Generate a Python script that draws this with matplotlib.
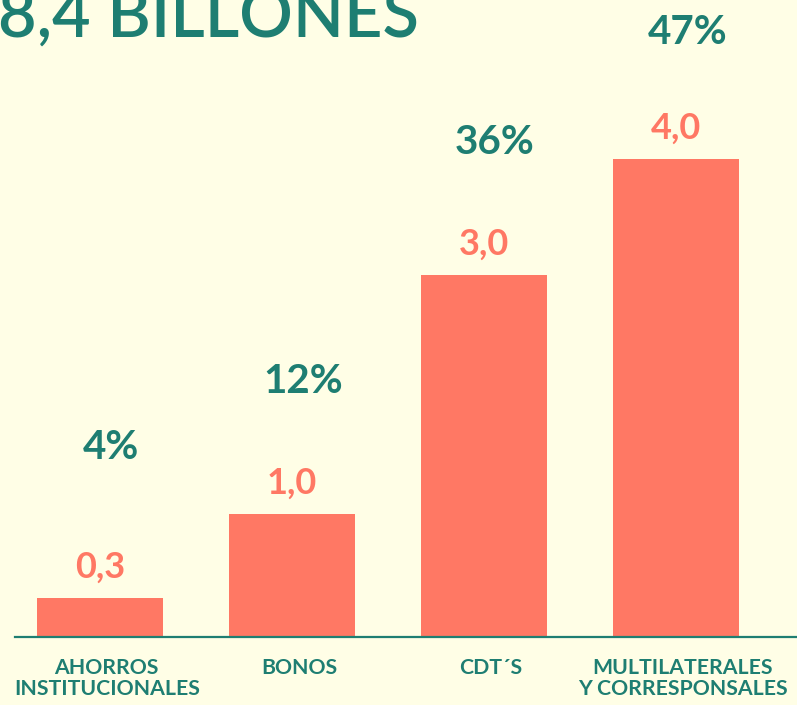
import matplotlib
matplotlib.use('Agg')
import matplotlib.pyplot as plt

# data (billones)
categories = ['AHORROS\nINSTITUCIONALES', 'BONOS', 'CDT´S', 'MULTILATERALES\nY CORRESPONSALES']
values = [0.33, 1.03, 3.03, 4.0]
value_labels = ['0,3', '1,0', '3,0', '4,0']
pct_labels = ['4%', '12%', '36%', '47%']
title = '8,4 BILLONES'

# vertical offsets (points) of the percentage labels above each bar
pct_offsets = [95, 82, 82, 78]

bg = '#FFFEE6'
teal = '#1E7E72'
salmon = '#FF7864'
font = 'Lato'

fig = plt.figure(figsize=(7.97, 7.05), dpi=100, facecolor=bg)
ax = fig.add_axes([0, 68 / 705, 1, 637 / 705])
ax.set_facecolor(bg)

x = range(len(categories))
bars = ax.bar(x, values, width=0.656, color=salmon, zorder=2)

ax.set_xlim(-0.52, 3.63)
ax.set_ylim(0, 5.33)

for s in ['top', 'right', 'left']:
    ax.spines[s].set_visible(False)
ax.spines['bottom'].set_color(teal)
ax.spines['bottom'].set_linewidth(1.6)
ax.spines['bottom'].set_bounds(-0.44, 3.63)
ax.set_yticks([])
ax.set_xticks([])

for i, b in enumerate(bars):
    cx = b.get_x() + b.get_width() / 2
    top = b.get_height()
    ax.annotate(value_labels[i], (cx, top),
                xytext=(0, 10), textcoords='offset points', ha='center', va='bottom',
                color=salmon, fontsize=26, fontweight='bold', family=font)
    ax.annotate(pct_labels[i], (cx, top),
                xytext=(8, pct_offsets[i]), textcoords='offset points', ha='center', va='bottom',
                color=teal, fontsize=29, fontweight='bold', family=font)
    ax.annotate(categories[i], (cx, 0),
                xytext=(5, -15), textcoords='offset points', ha='center', va='top',
                color=teal, fontsize=15.3, fontweight='bold', family=font,
                linespacing=1.08)

fig.text(-0.003, 1 - 37 / 705, title, ha='left', va='baseline', color=teal,
         fontsize=48, fontweight='semibold', family=font)

fig.savefig('out.png', dpi=100, facecolor=bg)
